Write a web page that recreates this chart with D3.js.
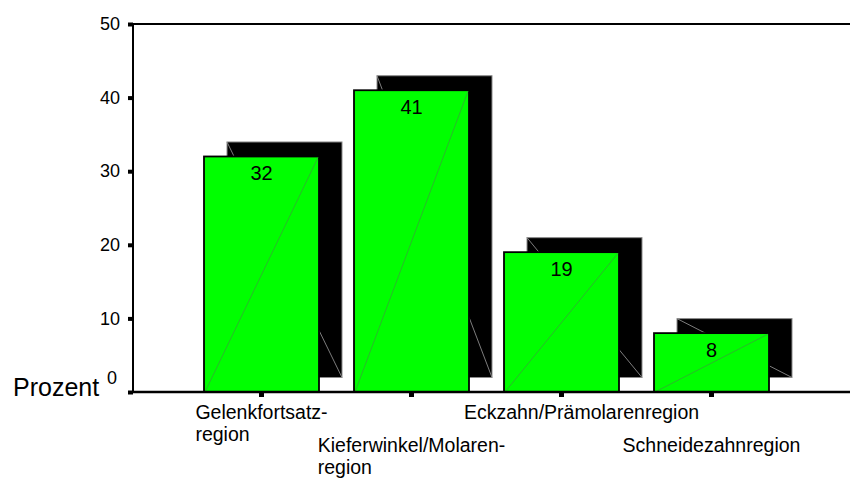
<!DOCTYPE html>
<html>
<head>
<meta charset="utf-8">
<script src="https://cdn.jsdelivr.net/npm/d3@7"></script>
<style>
  html, body { margin: 0; padding: 0; background: #fff; }
  svg { display: block; font-family: "Liberation Sans", Arial, Helvetica, sans-serif; }
</style>
</head>
<body>
<svg id="chart" width="850" height="478"></svg>
<script>
// Anteil der Frakturen je Region (Prozent)
const categories = [
  "Gelenkfortsatz-region",
  "Kieferwinkel/Molaren-region",
  "Eckzahn/Prämolarenregion",
  "Schneidezahnregion"
];
const values = [32, 41, 19, 8];
const yTicks = [0, 10, 20, 30, 40, 50];
const yLabel = "Prozent";

const W = 850, H = 478;
const frame = { left: 133, right: 850, top: 24, bottom: 392 };
const shadow = { dx: 23, dy: -14.5 };
const labelRows = [418.5, 451.5];   // baselines of the two staggered label rows
const lineGap = 22;
const labelNudge = [0, 0, 20, 0];   // horizontal nudge of category labels

const svg = d3.select("#chart");

const x = d3.scaleBand()
  .domain(categories)
  .range([186.5, 786.5])
  .paddingInner(35 / 150)
  .paddingOuter(17.5 / 150);

const y = d3.scaleLinear()
  .domain([0, 50])
  .range([frame.bottom, frame.top]);

const rows = categories.map((c, i) => ({ cat: c, value: values[i], i }));

// shadow blocks behind the bars
const sh = svg.append("g").attr("class", "shadows");
sh.selectAll("rect").data(rows).join("rect")
  .attr("x", d => x(d.cat) + shadow.dx)
  .attr("y", d => y(d.value) + shadow.dy)
  .attr("width", x.bandwidth())
  .attr("height", d => y(0) - y(d.value))
  .attr("fill", "#000")
  .attr("stroke", "#8a8a8a")
  .attr("stroke-width", 1);
sh.selectAll("line").data(rows).join("line")
  .attr("x1", d => x(d.cat) + shadow.dx)
  .attr("y1", d => y(d.value) + shadow.dy)
  .attr("x2", d => x(d.cat) + shadow.dx + x.bandwidth())
  .attr("y2", d => y(0) + shadow.dy)
  .attr("stroke", "#8a8a8a")
  .attr("stroke-width", 0.9);

// green bars
const bars = svg.append("g").attr("class", "bars");
bars.selectAll("rect").data(rows).join("rect")
  .attr("x", d => x(d.cat))
  .attr("y", d => y(d.value))
  .attr("width", x.bandwidth())
  .attr("height", d => y(0) - y(d.value))
  .attr("fill", "#00ff00")
  .attr("stroke", "#000")
  .attr("stroke-width", 1.8);
bars.selectAll("line").data(rows).join("line")
  .attr("x1", d => x(d.cat) + 1)
  .attr("y1", d => y(0))
  .attr("x2", d => x(d.cat) + x.bandwidth() - 1)
  .attr("y2", d => y(d.value) + 1)
  .attr("stroke", "#3c9c3c")
  .attr("stroke-width", 0.7);

// value labels inside bar tops
bars.selectAll("text").data(rows).join("text")
  .attr("x", d => x(d.cat) + x.bandwidth() / 2)
  .attr("y", d => y(d.value) + 24)
  .attr("text-anchor", "middle")
  .attr("font-size", 20)
  .attr("fill", "#000")
  .text(d => d.value);

// frame: top rule
svg.append("line")
  .attr("x1", frame.left).attr("x2", frame.right)
  .attr("y1", frame.top).attr("y2", frame.top)
  .attr("stroke", "#000").attr("stroke-width", 2);

// y axis
const yAxis = svg.append("g")
  .attr("transform", `translate(${frame.left},0)`)
  .call(d3.axisLeft(y).tickValues(yTicks).tickSize(5).tickPadding(8));
yAxis.select(".domain").remove();
yAxis.selectAll(".tick line").attr("stroke", "#000").attr("stroke-width", 4);
yAxis.selectAll(".tick text")
  .attr("font-size", 18)
  .attr("font-family", "Liberation Sans, Arial, sans-serif")
  .attr("fill", "#000");
yAxis.selectAll(".tick").filter(d => d === 0).select("text")
  .attr("dx", -3).attr("dy", "-0.45em");
svg.append("line")
  .attr("x1", frame.left).attr("x2", frame.left)
  .attr("y1", frame.top - 1).attr("y2", frame.bottom + 1)
  .attr("stroke", "#000").attr("stroke-width", 2);

// x axis
const xAxis = svg.append("g")
  .attr("transform", `translate(0,${frame.bottom})`)
  .call(d3.axisBottom(x).tickSize(5).tickFormat(""));
xAxis.select(".domain").remove();
xAxis.selectAll(".tick line").attr("stroke", "#000").attr("stroke-width", 5);
svg.append("line")
  .attr("x1", frame.left - 1).attr("x2", frame.right)
  .attr("y1", frame.bottom).attr("y2", frame.bottom)
  .attr("stroke", "#000").attr("stroke-width", 2.5);

// staggered category labels, split after hyphen
const labels = svg.append("g").attr("class", "cat-labels")
  .attr("font-size", 19.5).attr("fill", "#000");
rows.forEach(d => {
  const lines = d.cat.split(/(?<=-)/);
  const t = labels.append("text").attr("text-anchor", "start");
  lines.forEach((ln, k) => {
    t.append("tspan").attr("y", labelRows[d.i % 2] + k * lineGap).text(ln);
  });
  const widths = t.selectAll("tspan").nodes().map(n => n.getComputedTextLength());
  const left = x(d.cat) + x.bandwidth() / 2 - d3.max(widths) / 2 + labelNudge[d.i];
  t.selectAll("tspan").attr("x", left);
});

// axis title
svg.append("text")
  .attr("x", 13).attr("y", 396)
  .attr("font-size", 25)
  .attr("fill", "#000")
  .text(yLabel);
</script>
</body>
</html>
